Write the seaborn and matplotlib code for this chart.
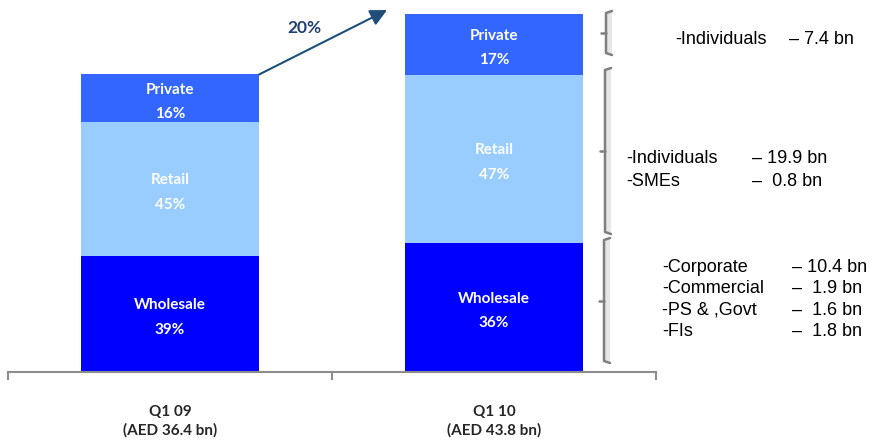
import matplotlib
matplotlib.use("Agg")
import matplotlib.pyplot as plt
import numpy as np
import pandas as pd
import seaborn as sns
from matplotlib.lines import Line2D
from matplotlib.patches import Rectangle

# ---- data -------------------------------------------------------------
quarters = ["Q1 09", "Q1 10"]
totals = [36.4, 43.8]                      # AED bn
segments = ["Wholesale", "Retail", "Private"]   # bottom -> top
shares = {
    "Wholesale": [39, 36],
    "Retail": [45, 47],
    "Private": [16, 17],
}
growth_label = "20%"
breakdown_private = [("-Individuals", "– 7.4 bn")]
breakdown_retail = [("-Individuals", "– 19.9 bn"), ("-SMEs", "–  0.8 bn")]
breakdown_wholesale = [("-Corporate", "– 10.4 bn"), ("-Commercial", "–  1.9 bn"),
                       ("-PS & ,Govt", "–  1.6 bn"), ("-FIs", "–  1.8 bn")]

colors = {"Wholesale": "#0000FF", "Retail": "#99CCFF", "Private": "#3366FF"}

# ---- derived table ----------------------------------------------------
rows = []
for i, q in enumerate(quarters):
    base = 0.0
    for seg in segments:
        val = totals[i] * shares[seg][i] / 100.0
        rows.append({"quarter": q, "segment": seg, "value": val,
                     "bottom": base, "top": base + val, "share": shares[seg][i]})
        base += val
df = pd.DataFrame(rows)

# ---- figure -----------------------------------------------------------
W, H = 872, 440
fig = plt.figure(figsize=(W / 100, H / 100), dpi=100)
sns.set_style("white")
plt.rcParams["font.family"] = ["Lato", "DejaVu Sans"]

ax_left, ax_right, ax_base, ax_top = 8, 656, 372, 14
ax = fig.add_axes([ax_left / W, 1 - ax_base / H,
                   (ax_right - ax_left) / W, (ax_base - ax_top) / H])

bar_w = 0.55
# stacked bars: draw cumulative tops from the top layer down
for seg in reversed(segments):
    sub = df[df["segment"] == seg]
    sns.barplot(data=sub, x="quarter", y="top", order=quarters, color=colors[seg],
                saturation=1, width=bar_w, ax=ax, linewidth=0)

ax.set_xlim(-0.5, 1.5)
ax.set_ylim(0, max(totals))

# segment labels, nudged slightly below the segment centre
for _, r in df.iterrows():
    xi = quarters.index(r["quarter"])
    ax.annotate(f"{r['segment']}\n{r['share']}%",
                xy=(xi, (r["bottom"] + r["top"]) / 2), xytext=(0, -2.5),
                textcoords="offset points",
                ha="center", va="center", color="white", fontsize=11,
                fontweight="bold", linespacing=1.95)

# growth arrow between bar tops
ax.annotate("", xy=(0.67, max(totals) * 1.011), xytext=(bar_w / 2, totals[0]),
            arrowprops=dict(arrowstyle="-|>,head_length=1.0,head_width=0.5",
                            color="#1F4E79", lw=1.5, shrinkA=0, shrinkB=0),
            annotation_clip=False)
ax.text(0.415, (ax_base - 28) / (ax_base - ax_top) * max(totals),
        growth_label, ha="center", va="center", color="#1F3F73",
        fontsize=12.5, fontweight="bold")

# axes styling
for s in ["left", "top", "right"]:
    ax.spines[s].set_visible(False)
ax.spines["bottom"].set_color("#8C8C8C")
ax.spines["bottom"].set_linewidth(1.5)
ax.set_yticks([])
ax.set_ylabel("")
ax.set_xlabel("")
ax.set_xticks([0, 1])
ax.set_xticklabels([f"{q}\n(AED {t} bn)" for q, t in zip(quarters, totals)],
                   fontsize=11, fontweight="bold", linespacing=1.35)
ax.tick_params(axis="x", which="major", bottom=False, length=0, pad=24)
ax.set_xticks([-0.5, 0.5, 1.5], minor=True)
ax.tick_params(axis="x", which="minor", bottom=True, length=6, width=1.5,
               color="#8C8C8C", direction="out")


# ---- right-hand breakdown ---------------------------------------------
def fx(px):
    return px / W


def fy(py):
    return 1 - py / H


def bracket(x, top, bottom, mid):
    fig.add_artist(Rectangle((fx(x + 1), fy(bottom)), 5 / W, (bottom - top) / H,
                             transform=fig.transFigure, facecolor="#E6E6E6",
                             edgecolor="none"))
    fig.add_artist(Line2D([fx(x + 6), fx(x), fx(x), fx(x + 6)],
                          [fy(top), fy(top + 2), fy(bottom - 2), fy(bottom)],
                          transform=fig.transFigure, color="#7F7F7F", lw=1.8,
                          solid_joinstyle="round"))
    fig.add_artist(Line2D([fx(x - 5), fx(x)], [fy(mid), fy(mid)],
                          transform=fig.transFigure, color="#7F7F7F", lw=1.8))


bracket(606, 11, 55, 33)
bracket(605, 68, 234, 151)
bracket(604, 238, 363, 301)

txt_kw = dict(fontsize=13, family=["Liberation Sans", "DejaVu Sans"],
              va="center", ha="left", color="black")


def block(items, x_label, x_value, y0, dy):
    for k, (lab, val) in enumerate(items):
        y = y0 + k * dy
        fig.text(fx(x_label), fy(y), lab, **txt_kw)
        fig.text(fx(x_value), fy(y), val, **txt_kw)


block(breakdown_private, 675, 789, 40, 0)
block(breakdown_retail, 626, 752, 158, 23)
block(breakdown_wholesale, 662, 792, 267, 21.5)

fig.savefig("out.png", dpi=100)
